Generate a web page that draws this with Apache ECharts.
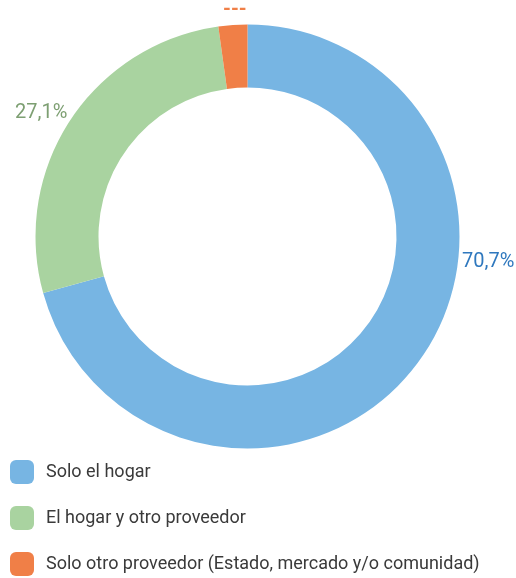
<!DOCTYPE html>
<html>
<head>
<meta charset="utf-8">
<script src="https://cdn.jsdelivr.net/npm/echarts@6/dist/echarts.min.js"></script>
<style>
  html, body { margin: 0; padding: 0; background: #fff; }
  #chart { width: 516px; height: 578px; }
</style>
</head>
<body>
<div id="chart"></div>
<script>
// categories and shares (%)
const categories = ['Solo el hogar', 'El hogar y otro proveedor', 'Solo otro proveedor (Estado, mercado y/o comunidad)']
const values = [70.7, 27.1, 2.2]
const labels = ['70,7%', '27,1%', '---']
const colors = ['#77b5e3', '#a9d3a0', '#f07f47']
const labelColors = ['#2f78be', '#7d9f72', '#f07f47']

// where each value label sits
const labelSpots = [
  { x: 462, y: 262 },
  { x: 15, y: 113 },
  { x: 223, y: 10 }
]

const chart = echarts.init(document.getElementById('chart'))

const option = {
  animation: false,
  color: colors,
  legend: {
    orient: 'vertical',
    left: 10,
    top: 460,
    padding: 0,
    itemWidth: 24,
    itemHeight: 24,
    itemGap: 22,
    icon: 'roundRect',
    textStyle: {
      fontFamily: 'Roboto',
      fontSize: 18,
      color: '#3a3a3a',
      padding: [0, 0, 0, 7]
    },
    data: categories
  },
  series: [
    {
      type: 'pie',
      center: [247.5, 236.5],
      radius: [149, 212],
      startAngle: 90,
      clockwise: true,
      silent: true,
      label: {
        show: true,
        position: 'outside',
        overflow: 'none',
        fontFamily: 'Roboto',
        fontSize: 20,
        formatter: (p) => labels[p.dataIndex]
      },
      labelLine: { show: false },
      labelLayout: (params) => {
        const s = labelSpots[params.dataIndex]
        return { x: s.x, y: s.y, align: 'left', verticalAlign: 'middle', width: 80 }
      },
      data: categories.map((name, i) => ({
        name,
        value: values[i],
        label: { color: labelColors[i], fontWeight: i === 2 ? 'bold' : 'normal' }
      }))
    }
  ]
}

chart.setOption(option)
</script>
</body>
</html>
